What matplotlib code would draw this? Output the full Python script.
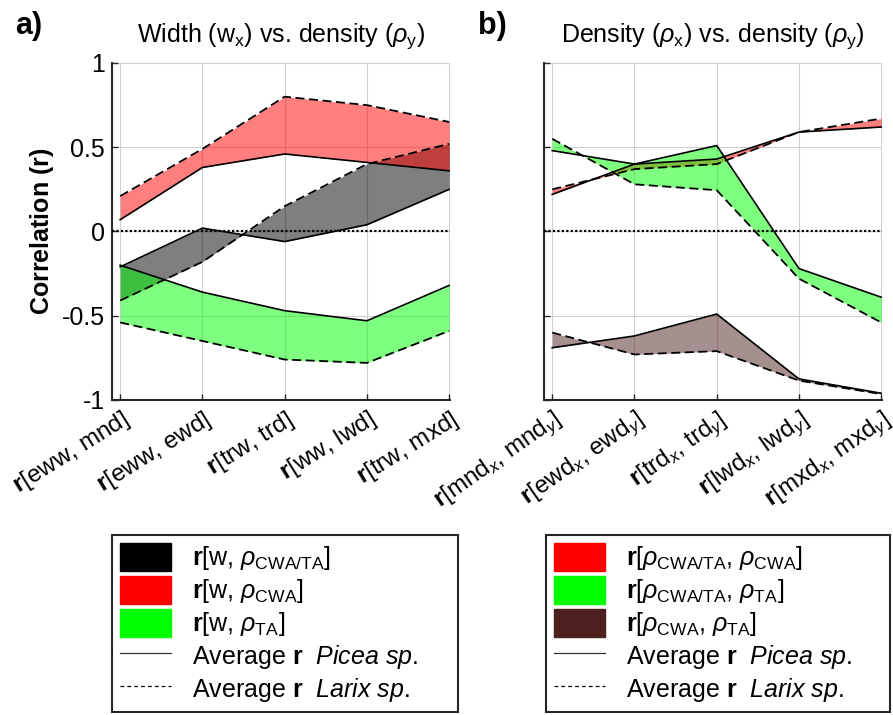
import numpy as np
import matplotlib.pyplot as plt
from matplotlib.patches import Patch
from matplotlib.lines import Line2D

plt.rcParams['font.family'] = ['Liberation Sans', 'DejaVu Sans']
plt.rcParams['mathtext.fontset'] = 'custom'
plt.rcParams['mathtext.rm'] = 'Liberation Sans'
plt.rcParams['mathtext.it'] = 'Liberation Sans:italic'
plt.rcParams['mathtext.bf'] = 'Liberation Sans:bold'

# =====================================================
# DATA
# =====================================================
x = np.arange(1, 6)

labels_a = [r"$\mathbf{r}$[eww, mnd]", r"$\mathbf{r}$[eww, ewd]", r"$\mathbf{r}$[trw, trd]",
            r"$\mathbf{r}$[ww, lwd]", r"$\mathbf{r}$[trw, mxd]"]
labels_b = [r"$\mathbf{r}$[mnd$_x$, mnd$_y$]", r"$\mathbf{r}$[ewd$_x$, ewd$_y$]",
            r"$\mathbf{r}$[trd$_x$, trd$_y$]", r"$\mathbf{r}$[lwd$_x$, lwd$_y$]",
            r"$\mathbf{r}$[mxd$_x$, mxd$_y$]"]

# panel a: width vs density
a_cwata_picea = [-0.21, 0.02, -0.06, 0.04, 0.25]
a_cwata_larix = [-0.41, -0.18, 0.15, 0.40, 0.52]
a_cwa_picea = [0.07, 0.38, 0.46, 0.41, 0.36]
a_cwa_larix = [0.21, 0.49, 0.80, 0.75, 0.65]
a_ta_picea = [-0.20, -0.36, -0.47, -0.53, -0.32]
a_ta_larix = [-0.54, -0.65, -0.76, -0.78, -0.59]

# panel b: density vs density
b_cwa_picea = [0.22, 0.40, 0.43, 0.59, 0.62]
b_cwa_larix = [0.25, 0.37, 0.40, 0.59, 0.67]
b_ta_picea = [0.48, 0.40, 0.51, -0.22, -0.39]
b_ta_larix = [0.55, 0.28, 0.245, -0.28, -0.54]
b_cwata_picea = [-0.69, -0.62, -0.49, -0.875, -0.96]
b_cwata_larix = [-0.60, -0.73, -0.71, -0.885, -0.965]

BLACK = "#000000"
RED = "#ff0000"
GREEN = "#00ff00"
BROWN = "#4f2020"

fig = plt.figure(figsize=(8.93, 7.15), dpi=100)
ax_a = fig.add_axes([0.1254, 0.4406, 0.3785, 0.4713])
ax_b = fig.add_axes([0.6092, 0.4406, 0.3785, 0.4713])


def band(ax, picea, larix, color):
    ax.fill_between(x, picea, larix, color=color, alpha=0.5, linewidth=0)
    ax.plot(x, picea, color="k", lw=1.2, ls="-")
    ax.plot(x, larix, color="k", lw=1.3, ls=(0, (5, 2.5)))


def style(ax, labels, show_y, rot):
    ax.axhline(0, color="k", lw=1.6, ls=(0, (1, 1)), zorder=3)
    ax.set_xlim(0.9, 5.01)
    ax.set_ylim(-1, 1)
    ax.set_xticks(x)
    ax.set_yticks([-1, -0.5, 0, 0.5, 1])
    ax.set_xticklabels(labels, rotation=rot, ha="right", rotation_mode="anchor",
                       fontsize=17.5)
    if show_y:
        ax.set_yticklabels(["-1", "-0.5", "0", "0.5", "1"], fontsize=18)
    else:
        ax.set_yticklabels([])
    ax.grid(True, color="#d0d0d0", lw=0.8)
    ax.set_axisbelow(True)
    for s in ["top", "right"]:
        ax.spines[s].set_visible(False)
    for s in ["left", "bottom"]:
        ax.spines[s].set_color("#262626")
        ax.spines[s].set_linewidth(1.5)
    ax.tick_params(direction="in", length=4, width=1, color="#262626", pad=5)


band(ax_a, a_cwata_picea, a_cwata_larix, BLACK)
band(ax_a, a_cwa_picea, a_cwa_larix, RED)
band(ax_a, a_ta_picea, a_ta_larix, GREEN)
style(ax_a, labels_a, True, 32)
ax_a.set_ylabel(r"Correlation ($\mathbf{r}$)", fontsize=18, fontweight="bold", labelpad=4)
ax_a.set_title(r"Width (w$_\mathrm{x}$) vs. density ($\rho_\mathrm{y}$)", fontsize=18, pad=15)

band(ax_b, b_cwa_picea, b_cwa_larix, RED)
band(ax_b, b_ta_picea, b_ta_larix, GREEN)
band(ax_b, b_cwata_picea, b_cwata_larix, BROWN)
style(ax_b, labels_b, False, 35)
ax_b.set_title(r"Density ($\rho_\mathrm{x}$) vs. density ($\rho_\mathrm{y}$)", fontsize=18, pad=15)

fig.text(0.017, 0.952, "a)", fontsize=22, fontweight="bold")
fig.text(0.535, 0.952, "b)", fontsize=22, fontweight="bold")

solid = Line2D([], [], color="#333333", lw=0.9)
dashed = Line2D([], [], color="k", lw=0.9, ls=(0, (3, 2.5)))
avg_picea = r"Average $\mathbf{r}$  $\mathit{Picea\ sp.}$"
avg_larix = r"Average $\mathbf{r}$  $\mathit{Larix\ sp.}$"

handles_a = [Patch(color=BLACK), Patch(color=RED), Patch(color=GREEN), solid, dashed]
texts_a = [r"$\mathbf{r}$[w, $\rho_\mathrm{CWA/TA}$]", r"$\mathbf{r}$[w, $\rho_\mathrm{CWA}$]",
           r"$\mathbf{r}$[w, $\rho_\mathrm{TA}$]", avg_picea, avg_larix]
handles_b = [Patch(color=RED), Patch(color=GREEN), Patch(color=BROWN), solid, dashed]
texts_b = [r"$\mathbf{r}$[$\rho_\mathrm{CWA/TA}$, $\rho_\mathrm{CWA}$]",
           r"$\mathbf{r}$[$\rho_\mathrm{CWA/TA}$, $\rho_\mathrm{TA}$]",
           r"$\mathbf{r}$[$\rho_\mathrm{CWA}$, $\rho_\mathrm{TA}$]", avg_picea, avg_larix]

for handles, texts, x0, w in [(handles_a, texts_a, 112, 346), (handles_b, texts_b, 546, 344)]:
    leg = fig.legend(handles, texts, loc="upper left",
                     bbox_to_anchor=(x0 / 893, 1 - 535 / 715, w / 893, 0), mode="expand",
                     borderaxespad=0, fontsize=18, frameon=True, fancybox=False, framealpha=1,
                     handlelength=2.05, handleheight=1.4, labelspacing=0.13,
                     handletextpad=0.85, borderpad=0.3)
    leg.get_frame().set_edgecolor("#262626")
    leg.get_frame().set_linewidth(1.5)

fig.savefig("out.png", dpi=100)
